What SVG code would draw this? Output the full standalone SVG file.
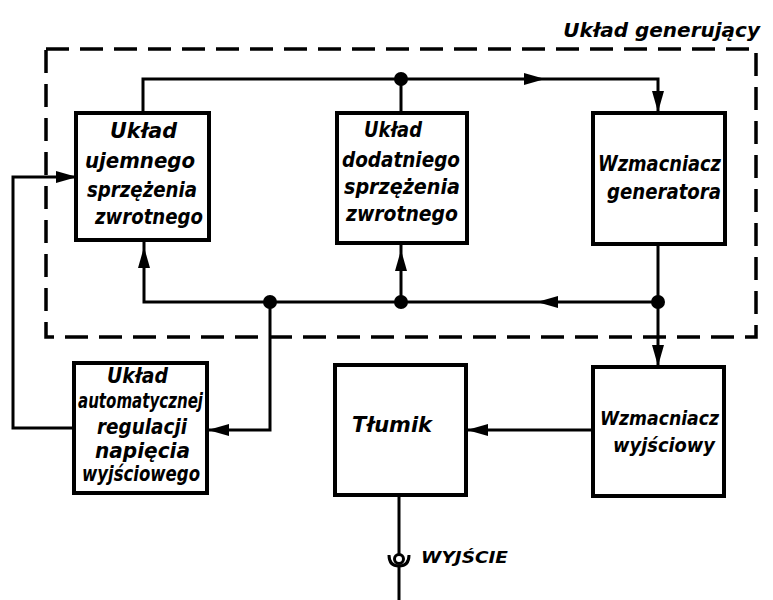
<svg xmlns="http://www.w3.org/2000/svg" xmlns:xlink="http://www.w3.org/1999/xlink" width="773" height="600" viewBox="0 0 773 600">
<style>
.bg{fill:#ffffff}
.box{fill:#ffffff;stroke:#000;stroke-width:4}
.ln{fill:none;stroke:#000;stroke-width:3}
.dash{fill:none;stroke:#000;stroke-width:3.5;stroke-dasharray:23 11}
.dot{fill:#000}
.t{font-family:"DejaVu Sans","Liberation Sans",sans-serif;font-weight:bold;font-style:italic;font-size:22px;fill:#000}
.title{font-size:20px;text-anchor:end}
.small{font-size:15px}
.mid{font-size:20px}
</style>
<defs>
<path id="ah" d="M0,0 L-21,-6 L-21,6 Z" fill="#000"/>
</defs>
<rect class="bg" x="0" y="0" width="773" height="600"/>

<g id="frame">
<rect class="dash" x="46" y="49" width="710" height="288"/>
<text class="t title" x="760" y="37">Układ generujący</text>
</g>

<g id="connectors">
<path class="ln" d="M143,112 V79 H658 V112"/>
<path class="ln" d="M401,79 V112"/>
<path class="ln" d="M144,241 V302 H658"/>
<path class="ln" d="M401,243 V302"/>
<path class="ln" d="M658,244 V366"/>
<path class="ln" d="M270,302 V430 H208"/>
<path class="ln" d="M74,428 H13 V177 H76"/>
<path class="ln" d="M593,430 H467"/>
<path class="ln" d="M399,495 V555"/>
<path class="ln" d="M399,566 V600"/>
<circle cx="401" cy="79" r="7" class="dot"/>
<circle cx="270" cy="302" r="7" class="dot"/>
<circle cx="401" cy="302" r="7" class="dot"/>
<circle cx="658" cy="302" r="7" class="dot"/>
<use xlink:href="#ah" transform="translate(143,112) rotate(-90)"/>
<use xlink:href="#ah" transform="translate(401,112) rotate(-90)"/>
<use xlink:href="#ah" transform="translate(545,79)"/>
<use xlink:href="#ah" transform="translate(658,112) rotate(90)"/>
<use xlink:href="#ah" transform="translate(144,247) rotate(-90)"/>
<use xlink:href="#ah" transform="translate(401,250) rotate(-90)"/>
<use xlink:href="#ah" transform="translate(537,302) rotate(180)"/>
<use xlink:href="#ah" transform="translate(658,366) rotate(90)"/>
<use xlink:href="#ah" transform="translate(208,430) rotate(180)"/>
<use xlink:href="#ah" transform="translate(77,177)"/>
<use xlink:href="#ah" transform="translate(467,430) rotate(180)"/>
</g>

<g id="output">
<circle cx="399" cy="559" r="4.5" fill="none" stroke="#000" stroke-width="3"/>
<path class="ln" d="M389,555 Q389,566 399,566 Q409,566 409,555"/>
<text class="t small" x="421" y="563" textLength="87" lengthAdjust="spacingAndGlyphs">WYJŚCIE</text>
</g>

<g id="n-ujemne">
<rect class="box" x="76" y="113" width="133" height="127"/>
<text class="t" x="110" y="138" textLength="67" lengthAdjust="spacingAndGlyphs">Układ</text>
<text class="t" x="85" y="168" textLength="110" lengthAdjust="spacingAndGlyphs">ujemnego</text>
<text class="t" x="87" y="197" textLength="110" lengthAdjust="spacingAndGlyphs">sprzężenia</text>
<text class="t" x="95" y="224" textLength="108" lengthAdjust="spacingAndGlyphs">zwrotnego</text>
</g>

<g id="n-dodatnie">
<rect class="box" x="337" y="113" width="130" height="130"/>
<text class="t" x="364" y="137" textLength="58" lengthAdjust="spacingAndGlyphs">Układ</text>
<text class="t" x="342" y="167" textLength="118" lengthAdjust="spacingAndGlyphs">dodatniego</text>
<text class="t" x="344" y="194" textLength="116" lengthAdjust="spacingAndGlyphs">sprzężenia</text>
<text class="t" x="346" y="221" textLength="112" lengthAdjust="spacingAndGlyphs">zwrotnego</text>
</g>

<g id="n-wzm-gen">
<rect class="box" x="593" y="113" width="132" height="131"/>
<text class="t" x="598" y="171" textLength="123" lengthAdjust="spacingAndGlyphs">Wzmacniacz</text>
<text class="t" x="607" y="199" textLength="114" lengthAdjust="spacingAndGlyphs">generatora</text>
</g>

<g id="n-arn">
<rect class="box" x="74" y="363" width="133" height="130"/>
<text class="t" x="107" y="383" textLength="61" lengthAdjust="spacingAndGlyphs">Układ</text>
<text class="t" x="78" y="408" textLength="125" lengthAdjust="spacingAndGlyphs">automatycznej</text>
<text class="t" x="97" y="434" textLength="90" lengthAdjust="spacingAndGlyphs">regulacji</text>
<text class="t" x="95" y="458" textLength="95" lengthAdjust="spacingAndGlyphs">napięcia</text>
<text class="t" x="82" y="481" textLength="118" lengthAdjust="spacingAndGlyphs">wyjściowego</text>
</g>

<g id="n-tlumik">
<rect class="box" x="335" y="365" width="131" height="130"/>
<text class="t" x="352" y="432" textLength="80" lengthAdjust="spacingAndGlyphs">Tłumik</text>
</g>

<g id="n-wzm-wyj">
<rect class="box" x="593" y="367" width="131" height="129"/>
<text class="t mid" x="600" y="425" textLength="119" lengthAdjust="spacingAndGlyphs">Wzmacniacz</text>
<text class="t mid" x="613" y="452" textLength="102" lengthAdjust="spacingAndGlyphs">wyjściowy</text>
</g>
</svg>
